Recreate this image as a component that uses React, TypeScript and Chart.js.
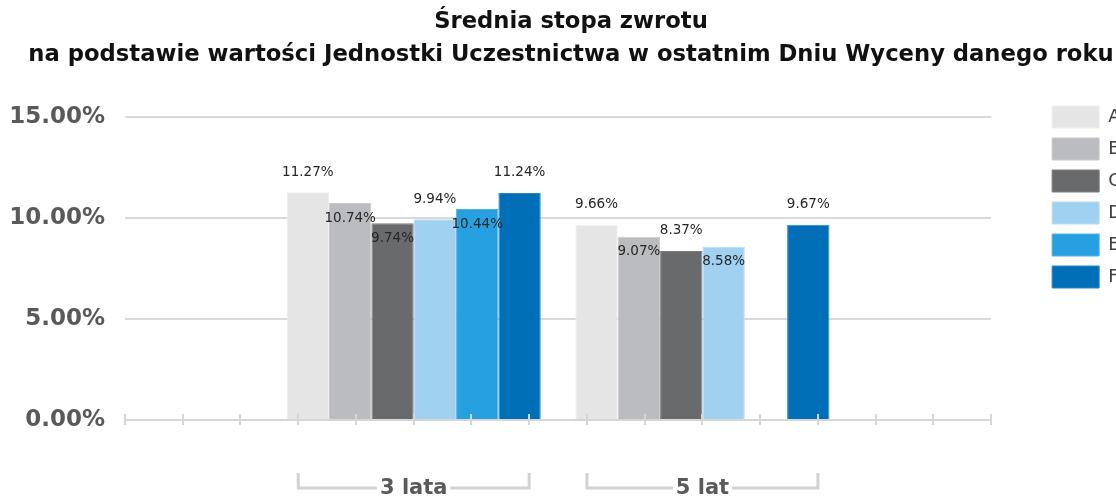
import React, { useEffect, useRef } from 'react';
import { Chart, registerables } from 'chart.js';

Chart.register(...registerables);

const titleLines = [
  'Średnia stopa zwrotu',
  'na podstawie wartości Jednostki Uczestnictwa w ostatnim Dniu Wyceny danego roku',
];
const categories = ['', '3 lata', '5 lat', ''];
const seriesNames = ['A', 'B', 'C', 'D', 'E', 'F'];
const seriesA = [null, 11.27, 9.66, null];
const seriesB = [null, 10.74, 9.07, null];
const seriesC = [null, 9.74, 8.37, null];
const seriesD = [null, 9.94, 8.58, null];
const seriesE = [null, 10.44, null, null];
const seriesF = [null, 11.24, 9.67, null];
const yTickValues = [0, 5, 10, 15];

// label side for each value label ('above' or 'below' the bar top)
const labelSides = [
  [null, 'above', 'above', null],
  [null, 'below', 'below', null],
  [null, 'below', 'above', null],
  [null, 'above', 'below', null],
  [null, 'below', null, null],
  [null, 'above', 'above', null],
];

const fillColors = ['#e5e5e5', '#bbbcbf', '#696a6c', '#a0d1f1', '#27a0e2', '#006fb7'];
const edgeColors = ['#efefef', '#c9cacc', '#7b7c7e', '#b6dcf5', '#4cb2e8', '#2a85c5'];

const FONT = '"DejaVu Sans", Verdana, sans-serif';

const axisDecor = {
  id: 'axisDecor',
  afterDatasetsDraw(chart: any) {
    const { ctx, chartArea } = chart;
    const xs = chart.scales.x;
    ctx.save();
    ctx.strokeStyle = '#d6d6d6';
    ctx.lineWidth = 2;
    ctx.beginPath();
    ctx.moveTo(chartArea.left, chartArea.bottom);
    ctx.lineTo(chartArea.right, chartArea.bottom);
    ctx.stroke();
    for (let k = 0; k <= 15; k++) {
      const x = Math.round(xs.getPixelForDecimal(k / 15));
      ctx.beginPath();
      ctx.moveTo(x, chartArea.bottom - 6);
      ctx.lineTo(x, chartArea.bottom + 5);
      ctx.stroke();
    }
    ctx.restore();
  },
};

const valueLabels = {
  id: 'valueLabels',
  afterDatasetsDraw(chart: any) {
    const ctx = chart.ctx;
    ctx.save();
    ctx.font = '13.5px ' + FONT;
    ctx.fillStyle = '#262626';
    ctx.textAlign = 'center';
    ctx.textBaseline = 'middle';
    chart.data.datasets.forEach((ds: any, di: number) => {
      const meta = chart.getDatasetMeta(di);
      meta.data.forEach((bar: any, i: number) => {
        const v = ds.data[i];
        if (v == null) return;
        const side = labelSides[di][i];
        const y = bar.y + (side === 'above' ? -20 : 15);
        ctx.fillText(v.toFixed(2) + '%', bar.x, y);
      });
    });
    ctx.restore();
  },
};

const brackets = {
  id: 'brackets',
  afterDraw(chart: any) {
    const { ctx, chartArea } = chart;
    const xs = chart.scales.x;
    const step = xs.getPixelForValue(1) - xs.getPixelForValue(0);
    ctx.save();
    ctx.font = 'bold 21px ' + FONT;
    ctx.strokeStyle = '#d2d2d2';
    ctx.lineWidth = 3;
    categories.forEach((c, i) => {
      if (!c) return;
      const cx = xs.getPixelForValue(i);
      const half = step * 0.4;
      const tw = ctx.measureText(c).width;
      const yTop = chartArea.bottom + 53;
      const yLine = chartArea.bottom + 68;
      ctx.beginPath();
      ctx.moveTo(cx - half, yTop);
      ctx.lineTo(cx - half, yLine);
      ctx.lineTo(cx - tw / 2 - 3, yLine);
      ctx.moveTo(cx + tw / 2 + 3, yLine);
      ctx.lineTo(cx + half, yLine);
      ctx.lineTo(cx + half, yTop);
      ctx.stroke();
    });
    ctx.restore();
  },
};

export default function App() {
  const canvasRef = useRef<HTMLCanvasElement | null>(null);

  useEffect(() => {
    document.body.style.margin = '0';
    const series = [seriesA, seriesB, seriesC, seriesD, seriesE, seriesF];
    const chart = new Chart(canvasRef.current as HTMLCanvasElement, {
      type: 'bar',
      data: {
        labels: categories,
        datasets: series.map((d, i) => ({
          label: seriesNames[i],
          data: d,
          backgroundColor: fillColors[i],
          borderColor: edgeColors[i],
          borderWidth: 1,
          categoryPercentage: 0.88,
          barPercentage: 1,
        })),
      },
      options: {
        animation: false,
        responsive: true,
        maintainAspectRatio: false,
        layout: { padding: { left: 10, right: 10, top: 0, bottom: 0 } },
        plugins: {
          title: {
            display: true,
            text: titleLines,
            color: '#111111',
            font: { family: FONT, size: 22.7, weight: 'bold', lineHeight: 33 / 22.7 },
            padding: { top: 5.5, bottom: 45.5 },
          },
          legend: {
            display: true,
            position: 'right',
            align: 'start',
            fullSize: true,
            title: { display: true, text: '', padding: { top: 86, bottom: 0 }, font: { size: 10, lineHeight: 1 } },
            labels: {
              boxWidth: 47,
              boxHeight: 22,
              padding: 10,
              color: '#404040',
              font: { family: FONT, size: 18 },
            },
          },
          tooltip: { enabled: false },
        },
        scales: {
          x: {
            type: 'category',
            offset: false,
            grid: { display: false, drawTicks: false, offset: false },
            border: { display: false },
            afterFit: (s: any) => {
              s.height = 81;
            },
            ticks: {
              autoSkip: false,
              maxRotation: 0,
              padding: 56,
              color: '#595959',
              font: { family: FONT, size: 21, weight: 'bold' },
            },
          },
          y: {
            min: 0,
            max: 15,
            afterBuildTicks: (s: any) => {
              s.ticks = yTickValues.map((v) => ({ value: v }));
            },
            afterFit: (s: any) => {
              s.width = 115;
            },
            grid: { color: '#d9d9d9', lineWidth: 2, drawTicks: false },
            border: { display: false },
            ticks: {
              padding: 20,
              color: '#595959',
              font: { family: FONT, size: 23, weight: 'bold' },
              callback: (v: any) => Number(v).toFixed(2) + '%',
            },
          },
          yRight: {
            type: 'linear',
            position: 'right',
            display: true,
            grid: { display: false, drawTicks: false },
            border: { display: false },
            ticks: { display: false },
            afterFit: (s: any) => {
              s.width = 51;
            },
          },
        },
      },
      plugins: [axisDecor, valueLabels, brackets],
    });
    return () => chart.destroy();
  }, []);

  return (
    <div style={{ width: 1116, height: 497, overflow: 'hidden' }}>
      <div style={{ position: 'relative', width: 1142, height: 501 }}>
        <canvas ref={canvasRef} />
      </div>
    </div>
  );
}
